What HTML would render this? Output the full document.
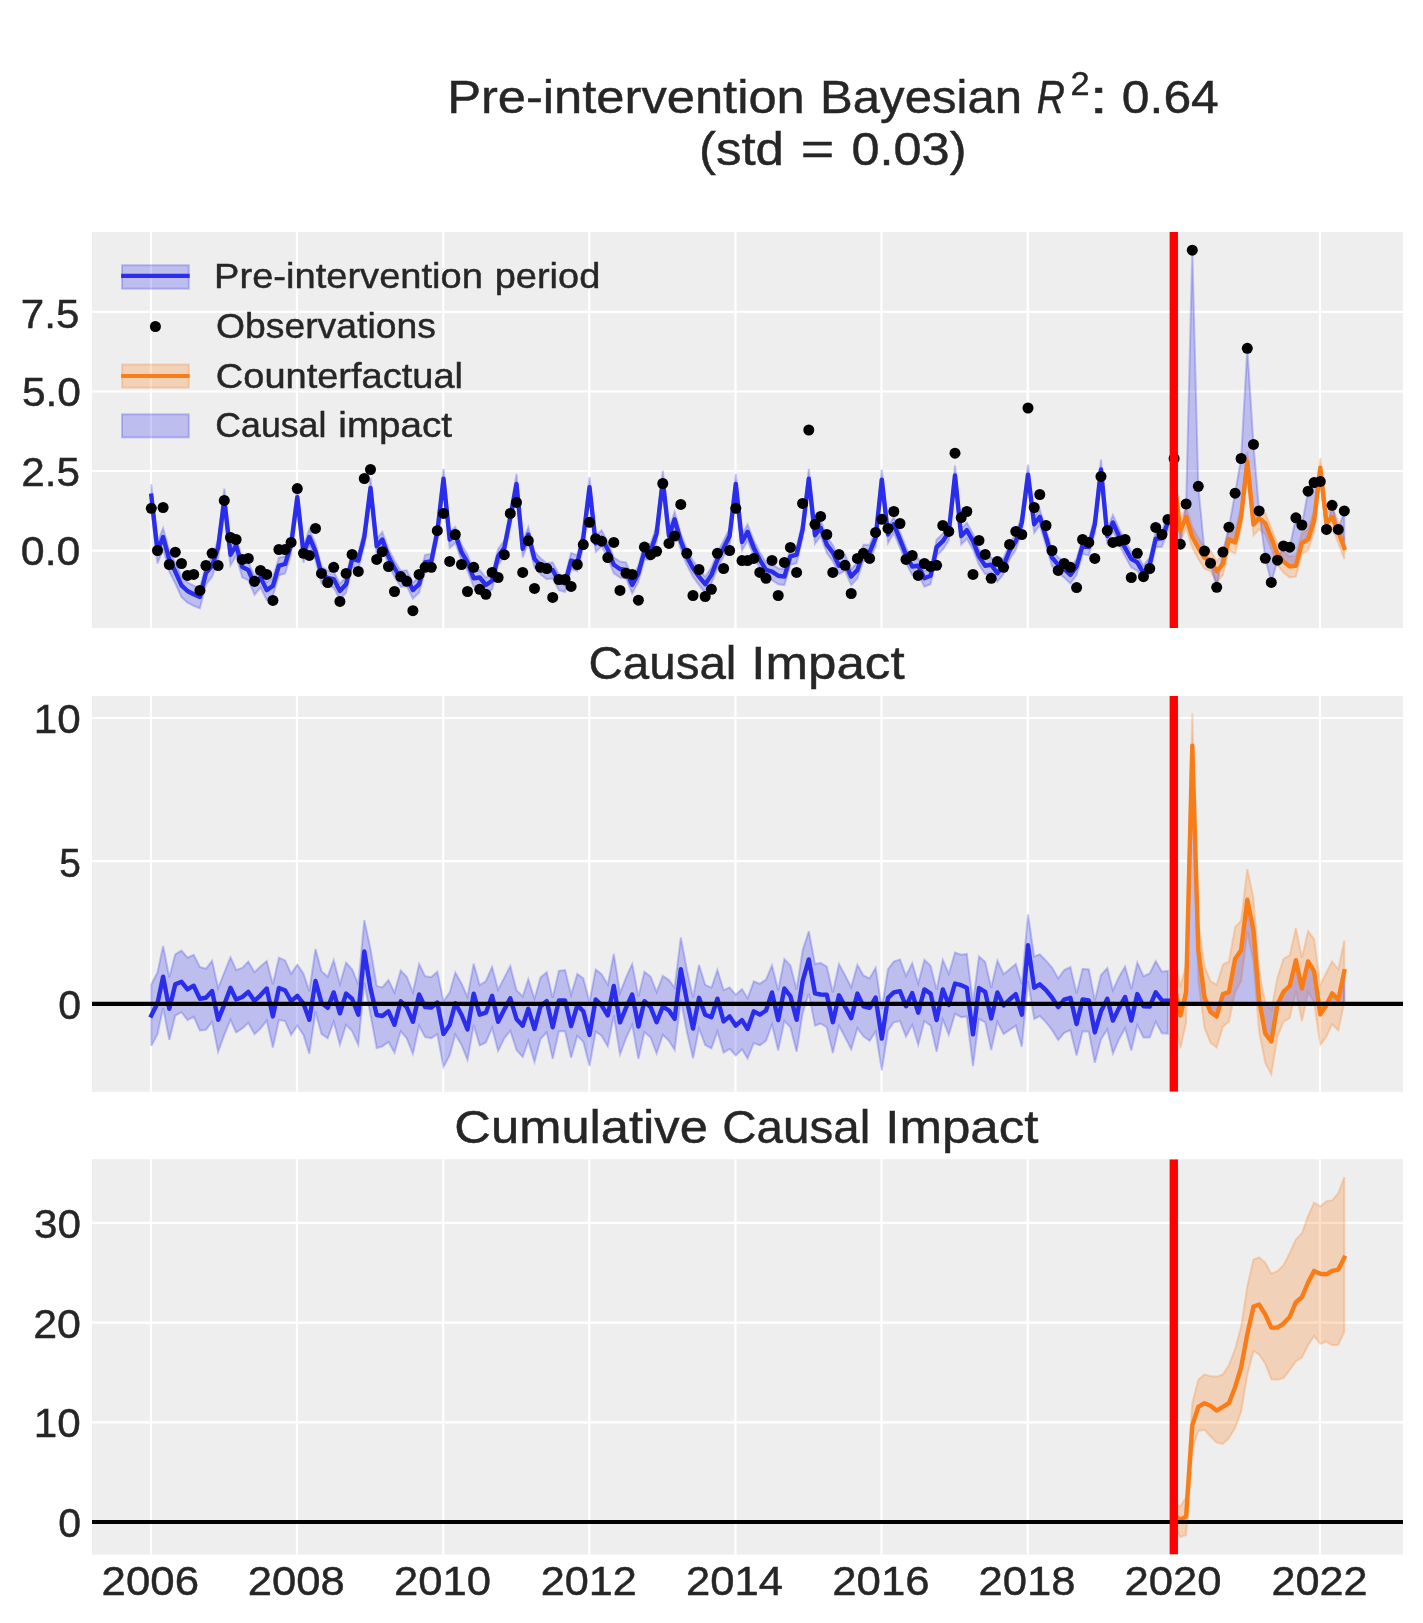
<!DOCTYPE html>
<html><head><meta charset="utf-8"><title>Causal impact chart</title><style>html,body{margin:0;padding:0;background:#fff}body{width:1423px;height:1623px;overflow:hidden}svg{position:absolute;left:0;top:0}</style></head><body>
<svg width="1423" height="1623" viewBox="0 0 1423 1623" style="display:block;font-family:'Liberation Sans',sans-serif">
<rect width="1423" height="1623" fill="#ffffff"/>
<defs><clipPath id="c0"><rect x="92.0" y="232.0" width="1311.0" height="396.0"/></clipPath><clipPath id="c1"><rect x="92.0" y="696.0" width="1311.0" height="395.79999999999995"/></clipPath><clipPath id="c2"><rect x="92.0" y="1159.2" width="1311.0" height="395.39999999999986"/></clipPath></defs>
<rect x="92.0" y="232.0" width="1311.0" height="396.0" fill="#eeeeee"/><g stroke="#ffffff" stroke-width="2.2"><line x1="150.96" x2="150.96" y1="232.0" y2="628.0"/><line x1="296.99" x2="296.99" y1="232.0" y2="628.0"/><line x1="443.22" x2="443.22" y1="232.0" y2="628.0"/><line x1="589.25" x2="589.25" y1="232.0" y2="628.0"/><line x1="735.48" x2="735.48" y1="232.0" y2="628.0"/><line x1="881.51" x2="881.51" y1="232.0" y2="628.0"/><line x1="1027.74" x2="1027.74" y1="232.0" y2="628.0"/><line x1="1173.76" x2="1173.76" y1="232.0" y2="628.0"/><line x1="1319.99" x2="1319.99" y1="232.0" y2="628.0"/><line x1="92.0" x2="1403.0" y1="311.8" y2="311.8"/><line x1="92.0" x2="1403.0" y1="391.5" y2="391.5"/><line x1="92.0" x2="1403.0" y1="471.0" y2="471.0"/><line x1="92.0" x2="1403.0" y1="550.7" y2="550.7"/></g>
<g clip-path="url(#c0)">
<path d="M151.3 484.2 L157.5 542.2 L163.1 528.1 L169.3 550.8 L175.3 562.8 L181.5 576.6 L187.5 582.3 L193.7 585.7 L199.9 588.3 L205.9 564.7 L212.1 557.2 L218.1 539.5 L224.3 488.6 L230.5 546.3 L236.1 537.1 L242.3 558.8 L248.3 561.7 L254.5 576.5 L260.5 569.4 L266.7 582.1 L272.9 577.9 L278.9 557.7 L285.1 556.1 L291.1 536.7 L297.3 487.0 L303.5 545.7 L309.3 529.3 L315.5 543.7 L321.5 566.8 L327.7 570.4 L333.7 571.6 L339.9 583.5 L346.1 576.7 L352.1 551.4 L358.3 553.1 L364.3 529.5 L370.5 478.0 L376.7 538.8 L382.3 532.0 L388.5 548.9 L394.5 560.7 L400.7 570.8 L406.7 570.2 L412.9 582.6 L419.1 576.7 L425.1 554.8 L431.3 553.9 L437.3 524.4 L443.5 468.8 L449.7 532.0 L455.3 527.0 L461.5 544.7 L467.5 554.8 L473.7 570.8 L479.7 570.0 L485.9 577.5 L492.1 573.3 L498.1 548.9 L504.3 540.4 L510.3 510.1 L516.5 473.9 L522.7 541.3 L528.3 527.0 L534.5 551.4 L540.5 558.2 L546.7 563.2 L552.7 562.4 L558.9 574.2 L565.1 575.9 L571.1 553.1 L577.3 555.2 L583.3 530.3 L589.5 477.2 L595.7 535.9 L601.6 530.3 L607.8 542.1 L613.8 557.3 L620.0 561.5 L626.0 562.4 L632.2 577.5 L638.4 565.7 L644.4 543.8 L650.6 543.5 L656.6 526.1 L662.8 470.5 L669.0 528.6 L674.6 511.8 L680.8 533.7 L686.8 548.9 L693.0 560.7 L699.0 569.1 L705.2 576.7 L711.4 567.4 L717.4 552.3 L723.6 540.4 L729.6 528.6 L735.8 473.9 L742.0 534.5 L747.6 524.4 L753.8 540.4 L759.8 552.3 L766.0 562.4 L772.0 564.1 L778.2 568.3 L784.4 569.1 L790.4 548.9 L796.6 547.2 L802.6 521.9 L808.8 468.8 L815.0 527.8 L820.6 520.2 L826.8 537.1 L832.8 545.1 L839.0 558.2 L845.0 554.7 L851.2 569.1 L857.4 562.4 L863.4 544.7 L869.6 544.7 L875.6 530.3 L881.8 469.6 L888.0 527.0 L893.8 516.8 L900.0 532.0 L906.0 547.2 L912.2 559.0 L918.2 558.2 L924.4 570.8 L930.6 568.3 L936.6 539.6 L942.8 533.7 L948.8 524.4 L955.0 465.4 L961.2 528.6 L966.8 522.7 L973.0 533.7 L979.0 548.9 L985.2 558.2 L991.2 557.3 L997.4 565.7 L1003.6 558.0 L1009.6 543.2 L1015.8 533.7 L1021.8 515.1 L1028.0 464.6 L1034.2 516.8 L1039.8 509.2 L1046.0 529.5 L1052.0 550.0 L1058.2 557.3 L1064.2 561.5 L1070.4 567.4 L1076.6 559.0 L1082.6 537.9 L1088.8 539.6 L1094.8 516.8 L1101.0 459.5 L1107.3 528.5 L1112.9 515.1 L1119.1 528.6 L1125.1 540.4 L1131.3 551.4 L1137.3 554.8 L1143.5 565.7 L1149.7 557.3 L1155.7 531.2 L1161.9 530.8 L1167.9 515.1 L1167.9 531.1 L1161.9 546.8 L1155.7 547.2 L1149.7 573.3 L1143.5 581.7 L1137.3 570.8 L1131.3 567.4 L1125.1 556.4 L1119.1 544.6 L1112.9 531.1 L1107.3 544.5 L1101.0 479.5 L1094.8 532.8 L1088.8 555.6 L1082.6 553.9 L1076.6 575.0 L1070.4 583.4 L1064.2 577.5 L1058.2 573.3 L1052.0 566.0 L1046.0 545.5 L1039.8 525.2 L1034.2 532.8 L1028.0 484.6 L1021.8 531.1 L1015.8 549.7 L1009.6 559.2 L1003.6 574.0 L997.4 581.7 L991.2 573.3 L985.2 574.2 L979.0 564.9 L973.0 549.7 L966.8 538.7 L961.2 544.6 L955.0 485.4 L948.8 540.4 L942.8 549.7 L936.6 555.6 L930.6 584.3 L924.4 586.8 L918.2 574.2 L912.2 575.0 L906.0 563.2 L900.0 548.0 L893.8 532.8 L888.0 543.0 L881.8 489.6 L875.6 546.3 L869.6 560.7 L863.4 560.7 L857.4 578.4 L851.2 585.1 L845.0 570.7 L839.0 574.2 L832.8 561.1 L826.8 553.1 L820.6 536.2 L815.0 543.8 L808.8 488.8 L802.6 537.9 L796.6 563.2 L790.4 564.9 L784.4 585.1 L778.2 584.3 L772.0 580.1 L766.0 578.4 L759.8 568.3 L753.8 556.4 L747.6 540.4 L742.0 550.5 L735.8 493.9 L729.6 544.6 L723.6 556.4 L717.4 568.3 L711.4 583.4 L705.2 592.7 L699.0 585.1 L693.0 576.7 L686.8 564.9 L680.8 549.7 L674.6 527.8 L669.0 544.6 L662.8 490.5 L656.6 542.1 L650.6 559.5 L644.4 559.8 L638.4 581.7 L632.2 593.5 L626.0 578.4 L620.0 577.5 L613.8 573.3 L607.8 558.1 L601.6 546.3 L595.7 551.9 L589.5 497.2 L583.3 546.3 L577.3 571.2 L571.1 569.1 L565.1 591.9 L558.9 590.2 L552.7 578.4 L546.7 579.2 L540.5 574.2 L534.5 567.4 L528.3 543.0 L522.7 557.3 L516.5 493.9 L510.3 526.1 L504.3 556.4 L498.1 564.9 L492.1 589.3 L485.9 593.5 L479.7 586.0 L473.7 586.8 L467.5 570.8 L461.5 560.7 L455.3 543.0 L449.7 548.0 L443.5 488.8 L437.3 540.4 L431.3 569.9 L425.1 570.8 L419.1 592.7 L412.9 598.6 L406.7 586.2 L400.7 586.8 L394.5 576.7 L388.5 564.9 L382.3 548.0 L376.7 554.8 L370.5 498.0 L364.3 545.5 L358.3 569.1 L352.1 567.4 L346.1 592.7 L339.9 599.5 L333.7 587.6 L327.7 586.5 L321.5 583.2 L315.5 560.2 L309.3 546.0 L303.5 562.6 L297.3 508.1 L291.1 554.0 L285.1 573.5 L278.9 575.4 L272.9 595.7 L266.7 600.1 L260.5 587.6 L254.5 594.8 L248.3 580.2 L242.3 577.5 L236.1 556.0 L230.5 565.5 L224.3 511.9 L218.1 559.0 L212.1 576.8 L205.9 584.5 L199.9 608.3 L193.7 605.9 L187.5 602.7 L181.5 597.2 L175.3 583.5 L169.3 571.7 L163.1 549.2 L157.5 563.5 L151.3 509.7Z" fill="#2a2eec" fill-opacity="0.25" stroke="#2a2eec" stroke-opacity="0.25" stroke-width="2.0" stroke-linejoin="miter" />
<path d="M1174.1 468.9 L1180.3 520.7 L1186.1 507.1 L1192.3 526.8 L1198.3 537.9 L1204.5 547.8 L1210.5 550.2 L1216.7 561.3 L1222.9 553.9 L1228.9 529.3 L1235.1 532.5 L1241.1 507.1 L1247.3 451.7 L1253.5 514.5 L1259.1 508.3 L1265.3 513.3 L1271.3 528.1 L1277.5 544.1 L1283.5 551.5 L1289.7 556.4 L1295.9 555.7 L1301.9 533.0 L1308.1 529.3 L1314.1 510.8 L1320.3 457.8 L1326.5 513.3 L1332.1 507.1 L1338.3 521.9 L1344.3 537.9 L1344.3 558.9 L1338.3 542.9 L1332.1 528.1 L1326.5 534.3 L1320.3 478.8 L1314.1 531.8 L1308.1 550.3 L1301.9 554.0 L1295.9 576.7 L1289.7 577.4 L1283.5 572.5 L1277.5 565.1 L1271.3 549.1 L1265.3 534.3 L1259.1 529.3 L1253.5 535.5 L1247.3 472.7 L1241.1 528.1 L1235.1 553.5 L1228.9 550.3 L1222.9 574.9 L1216.7 582.3 L1210.5 571.2 L1204.5 568.8 L1198.3 558.9 L1192.3 547.8 L1186.1 528.1 L1180.3 541.7 L1174.1 489.9Z" fill="#fa7c17" fill-opacity="0.25" stroke="#fa7c17" stroke-opacity="0.25" stroke-width="2.0" stroke-linejoin="miter" />
<path d="M1174.1 458.5 L1180.3 544.2 L1186.1 504.0 L1192.3 250.2 L1198.3 486.3 L1204.5 551.1 L1210.5 563.2 L1216.7 587.3 L1222.9 552.1 L1228.9 527.2 L1235.1 493.2 L1241.1 458.5 L1247.3 348.3 L1253.5 444.4 L1259.1 510.9 L1265.3 558.3 L1271.3 582.4 L1277.5 560.2 L1283.5 545.9 L1289.7 547.2 L1295.9 517.8 L1301.9 525.0 L1308.1 491.2 L1314.1 482.6 L1320.3 481.4 L1326.5 529.4 L1332.1 505.3 L1338.3 529.4 L1344.3 510.9 L1344.3 547.9 L1338.3 531.9 L1332.1 517.1 L1326.5 523.3 L1320.3 467.8 L1314.1 520.8 L1308.1 539.3 L1301.9 543.0 L1295.9 565.7 L1289.7 566.4 L1283.5 561.5 L1277.5 554.1 L1271.3 538.1 L1265.3 523.3 L1259.1 518.3 L1253.5 524.5 L1247.3 461.7 L1241.1 517.1 L1235.1 542.5 L1228.9 539.3 L1222.9 563.9 L1216.7 571.3 L1210.5 560.2 L1204.5 557.8 L1198.3 547.9 L1192.3 536.8 L1186.1 517.1 L1180.3 530.7 L1174.1 478.9Z" fill="#2a2eec" fill-opacity="0.25" stroke="#2a2eec" stroke-opacity="0.25" stroke-width="2.0" stroke-linejoin="miter" />
<polyline points="151.3,495.7 157.5,551.1 163.1,537.0 169.3,559.6 175.3,571.6 181.5,585.4 187.5,591.0 193.7,594.3 199.9,596.9 205.9,573.2 212.1,565.7 218.1,547.9 224.3,499.5 230.5,554.7 236.1,545.4 242.3,567.0 248.3,569.9 254.5,584.6 260.5,577.5 266.7,590.1 272.9,585.9 278.9,565.7 285.1,564.0 291.1,544.6 297.3,497.3 303.5,553.4 309.3,537.0 315.5,551.3 321.5,574.4 327.7,577.9 333.7,579.1 339.9,591.0 346.1,584.2 352.1,558.9 358.3,560.6 364.3,537.0 370.5,488.0 376.7,546.3 382.3,539.5 388.5,556.4 394.5,568.2 400.7,578.3 406.7,577.7 412.9,590.1 419.1,584.2 425.1,562.3 431.3,561.4 437.3,531.9 443.5,478.8 449.7,539.5 455.3,534.5 461.5,552.2 467.5,562.3 473.7,578.3 479.7,577.5 485.9,585.0 492.1,580.8 498.1,556.4 504.3,547.9 510.3,517.6 516.5,483.9 522.7,548.8 528.3,534.5 534.5,558.9 540.5,565.7 546.7,570.7 552.7,569.9 558.9,581.7 565.1,583.4 571.1,560.6 577.3,562.7 583.3,537.8 589.5,487.2 595.7,543.4 601.6,537.8 607.8,549.6 613.8,564.8 620.0,569.0 626.0,569.9 632.2,585.0 638.4,573.2 644.4,551.3 650.6,551.0 656.6,533.6 662.8,480.5 669.0,536.1 674.6,519.3 680.8,541.2 686.8,556.4 693.0,568.2 699.0,576.6 705.2,584.2 711.4,574.9 717.4,559.8 723.6,547.9 729.6,536.1 735.8,483.9 742.0,542.0 747.6,531.9 753.8,547.9 759.8,559.8 766.0,569.9 772.0,571.6 778.2,575.8 784.4,576.6 790.4,556.4 796.6,554.7 802.6,529.4 808.8,478.8 815.0,535.3 820.6,527.7 826.8,544.6 832.8,552.6 839.0,565.7 845.0,562.2 851.2,576.6 857.4,569.9 863.4,552.2 869.6,552.2 875.6,537.8 881.8,479.6 888.0,534.5 893.8,524.3 900.0,539.5 906.0,554.7 912.2,566.5 918.2,565.7 924.4,578.3 930.6,575.8 936.6,547.1 942.8,541.2 948.8,531.9 955.0,475.4 961.2,536.1 966.8,530.2 973.0,541.2 979.0,556.4 985.2,565.7 991.2,564.8 997.4,573.2 1003.6,565.5 1009.6,550.7 1015.8,541.2 1021.8,522.6 1028.0,474.6 1034.2,524.3 1039.8,516.7 1046.0,537.0 1052.0,557.5 1058.2,564.8 1064.2,569.0 1070.4,574.9 1076.6,566.5 1082.6,545.4 1088.8,547.1 1094.8,524.3 1101.0,469.5 1107.3,536.0 1112.9,522.6 1119.1,536.1 1125.1,547.9 1131.3,558.9 1137.3,562.3 1143.5,573.2 1149.7,564.8 1155.7,538.7 1161.9,538.3 1167.9,522.6" fill="none" stroke="#2a2eec" stroke-width="4.4" stroke-linejoin="round" stroke-linecap="square"/>
<polyline points="1174.1,478.9 1180.3,530.7 1186.1,517.1 1192.3,536.8 1198.3,547.9 1204.5,557.8 1210.5,560.2 1216.7,571.3 1222.9,563.9 1228.9,539.3 1235.1,542.5 1241.1,517.1 1247.3,461.7 1253.5,524.5 1259.1,518.3 1265.3,523.3 1271.3,538.1 1277.5,554.1 1283.5,561.5 1289.7,566.4 1295.9,565.7 1301.9,543.0 1308.1,539.3 1314.1,520.8 1320.3,467.8 1326.5,523.3 1332.1,517.1 1338.3,531.9 1344.3,547.9" fill="none" stroke="#fa7c17" stroke-width="4.4" stroke-linejoin="round" stroke-linecap="square"/>
<g fill="#000000"><circle cx="151.3" cy="508.3" r="5.5"/><circle cx="157.5" cy="550.5" r="5.5"/><circle cx="163.1" cy="507.5" r="5.5"/><circle cx="169.3" cy="564.5" r="5.5"/><circle cx="175.3" cy="552.2" r="5.5"/><circle cx="181.5" cy="563.5" r="5.5"/><circle cx="187.5" cy="575.4" r="5.5"/><circle cx="193.7" cy="574.4" r="5.5"/><circle cx="199.9" cy="590.4" r="5.5"/><circle cx="205.9" cy="565.5" r="5.5"/><circle cx="212.1" cy="553.3" r="5.5"/><circle cx="218.1" cy="565.5" r="5.5"/><circle cx="224.3" cy="500.4" r="5.5"/><circle cx="230.5" cy="537.5" r="5.5"/><circle cx="236.1" cy="539.5" r="5.5"/><circle cx="242.3" cy="559.4" r="5.5"/><circle cx="248.3" cy="558.4" r="5.5"/><circle cx="254.5" cy="581.3" r="5.5"/><circle cx="260.5" cy="570.4" r="5.5"/><circle cx="266.7" cy="574.4" r="5.5"/><circle cx="272.9" cy="600.4" r="5.5"/><circle cx="278.9" cy="549.5" r="5.5"/><circle cx="285.1" cy="549.5" r="5.5"/><circle cx="291.1" cy="542.4" r="5.5"/><circle cx="297.3" cy="488.6" r="5.5"/><circle cx="303.5" cy="553.3" r="5.5"/><circle cx="309.3" cy="555.4" r="5.5"/><circle cx="315.5" cy="528.4" r="5.5"/><circle cx="321.5" cy="573.4" r="5.5"/><circle cx="327.7" cy="582.5" r="5.5"/><circle cx="333.7" cy="567.3" r="5.5"/><circle cx="339.9" cy="601.4" r="5.5"/><circle cx="346.1" cy="573.4" r="5.5"/><circle cx="352.1" cy="554.4" r="5.5"/><circle cx="358.3" cy="571.4" r="5.5"/><circle cx="364.3" cy="478.5" r="5.5"/><circle cx="370.5" cy="469.5" r="5.5"/><circle cx="376.7" cy="559.4" r="5.5"/><circle cx="382.3" cy="551.7" r="5.5"/><circle cx="388.5" cy="566.5" r="5.5"/><circle cx="394.5" cy="591.5" r="5.5"/><circle cx="400.7" cy="576.6" r="5.5"/><circle cx="406.7" cy="581.3" r="5.5"/><circle cx="412.9" cy="610.7" r="5.5"/><circle cx="419.1" cy="574.4" r="5.5"/><circle cx="425.1" cy="567.3" r="5.5"/><circle cx="431.3" cy="567.3" r="5.5"/><circle cx="437.3" cy="530.7" r="5.5"/><circle cx="443.5" cy="513.4" r="5.5"/><circle cx="449.7" cy="561.4" r="5.5"/><circle cx="455.3" cy="534.5" r="5.5"/><circle cx="461.5" cy="564.5" r="5.5"/><circle cx="467.5" cy="591.5" r="5.5"/><circle cx="473.7" cy="567.3" r="5.5"/><circle cx="479.7" cy="589.3" r="5.5"/><circle cx="485.9" cy="594.3" r="5.5"/><circle cx="492.1" cy="572.4" r="5.5"/><circle cx="498.1" cy="577.5" r="5.5"/><circle cx="504.3" cy="554.7" r="5.5"/><circle cx="510.3" cy="513.4" r="5.5"/><circle cx="516.5" cy="502.4" r="5.5"/><circle cx="522.7" cy="572.4" r="5.5"/><circle cx="528.3" cy="540.7" r="5.5"/><circle cx="534.5" cy="588.4" r="5.5"/><circle cx="540.5" cy="567.3" r="5.5"/><circle cx="546.7" cy="568.5" r="5.5"/><circle cx="552.7" cy="597.4" r="5.5"/><circle cx="558.9" cy="579.5" r="5.5"/><circle cx="565.1" cy="579.5" r="5.5"/><circle cx="571.1" cy="586.4" r="5.5"/><circle cx="577.3" cy="564.5" r="5.5"/><circle cx="583.3" cy="544.6" r="5.5"/><circle cx="589.5" cy="522.3" r="5.5"/><circle cx="595.7" cy="538.7" r="5.5"/><circle cx="601.6" cy="541.2" r="5.5"/><circle cx="607.8" cy="557.6" r="5.5"/><circle cx="613.8" cy="542.4" r="5.5"/><circle cx="620.0" cy="590.4" r="5.5"/><circle cx="626.0" cy="573.2" r="5.5"/><circle cx="632.2" cy="574.4" r="5.5"/><circle cx="638.4" cy="600.2" r="5.5"/><circle cx="644.4" cy="547.1" r="5.5"/><circle cx="650.6" cy="554.7" r="5.5"/><circle cx="656.6" cy="551.3" r="5.5"/><circle cx="662.8" cy="483.5" r="5.5"/><circle cx="669.0" cy="543.4" r="5.5"/><circle cx="674.6" cy="536.1" r="5.5"/><circle cx="680.8" cy="504.4" r="5.5"/><circle cx="686.8" cy="553.3" r="5.5"/><circle cx="693.0" cy="595.5" r="5.5"/><circle cx="699.0" cy="569.5" r="5.5"/><circle cx="705.2" cy="596.5" r="5.5"/><circle cx="711.4" cy="589.3" r="5.5"/><circle cx="717.4" cy="553.3" r="5.5"/><circle cx="723.6" cy="568.5" r="5.5"/><circle cx="729.6" cy="550.5" r="5.5"/><circle cx="735.8" cy="508.3" r="5.5"/><circle cx="742.0" cy="560.6" r="5.5"/><circle cx="747.6" cy="560.6" r="5.5"/><circle cx="753.8" cy="558.4" r="5.5"/><circle cx="759.8" cy="572.4" r="5.5"/><circle cx="766.0" cy="578.3" r="5.5"/><circle cx="772.0" cy="560.4" r="5.5"/><circle cx="778.2" cy="595.5" r="5.5"/><circle cx="784.4" cy="562.4" r="5.5"/><circle cx="790.4" cy="547.4" r="5.5"/><circle cx="796.6" cy="572.4" r="5.5"/><circle cx="802.6" cy="503.4" r="5.5"/><circle cx="808.8" cy="430.0" r="5.5"/><circle cx="815.0" cy="524.3" r="5.5"/><circle cx="820.6" cy="516.4" r="5.5"/><circle cx="826.8" cy="534.5" r="5.5"/><circle cx="832.8" cy="572.4" r="5.5"/><circle cx="839.0" cy="554.4" r="5.5"/><circle cx="845.0" cy="565.3" r="5.5"/><circle cx="851.2" cy="593.5" r="5.5"/><circle cx="857.4" cy="558.4" r="5.5"/><circle cx="863.4" cy="553.3" r="5.5"/><circle cx="869.6" cy="558.4" r="5.5"/><circle cx="875.6" cy="532.4" r="5.5"/><circle cx="881.8" cy="519.3" r="5.5"/><circle cx="888.0" cy="528.4" r="5.5"/><circle cx="893.8" cy="511.5" r="5.5"/><circle cx="900.0" cy="523.5" r="5.5"/><circle cx="906.0" cy="559.4" r="5.5"/><circle cx="912.2" cy="555.5" r="5.5"/><circle cx="918.2" cy="575.4" r="5.5"/><circle cx="924.4" cy="563.5" r="5.5"/><circle cx="930.6" cy="566.5" r="5.5"/><circle cx="936.6" cy="565.3" r="5.5"/><circle cx="942.8" cy="525.5" r="5.5"/><circle cx="948.8" cy="531.4" r="5.5"/><circle cx="955.0" cy="453.2" r="5.5"/><circle cx="961.2" cy="517.6" r="5.5"/><circle cx="966.8" cy="511.5" r="5.5"/><circle cx="973.0" cy="574.4" r="5.5"/><circle cx="979.0" cy="540.4" r="5.5"/><circle cx="985.2" cy="554.4" r="5.5"/><circle cx="991.2" cy="578.3" r="5.5"/><circle cx="997.4" cy="561.4" r="5.5"/><circle cx="1003.6" cy="567.3" r="5.5"/><circle cx="1009.6" cy="544.4" r="5.5"/><circle cx="1015.8" cy="531.4" r="5.5"/><circle cx="1021.8" cy="534.5" r="5.5"/><circle cx="1028.0" cy="408.0" r="5.5"/><circle cx="1034.2" cy="507.5" r="5.5"/><circle cx="1039.8" cy="494.5" r="5.5"/><circle cx="1046.0" cy="525.5" r="5.5"/><circle cx="1052.0" cy="550.5" r="5.5"/><circle cx="1058.2" cy="570.4" r="5.5"/><circle cx="1064.2" cy="563.5" r="5.5"/><circle cx="1070.4" cy="567.3" r="5.5"/><circle cx="1076.6" cy="587.6" r="5.5"/><circle cx="1082.6" cy="539.5" r="5.5"/><circle cx="1088.8" cy="542.4" r="5.5"/><circle cx="1094.8" cy="558.4" r="5.5"/><circle cx="1101.0" cy="476.4" r="5.5"/><circle cx="1107.3" cy="530.6" r="5.5"/><circle cx="1112.9" cy="542.4" r="5.5"/><circle cx="1119.1" cy="541.2" r="5.5"/><circle cx="1125.1" cy="539.5" r="5.5"/><circle cx="1131.3" cy="577.5" r="5.5"/><circle cx="1137.3" cy="553.3" r="5.5"/><circle cx="1143.5" cy="576.6" r="5.5"/><circle cx="1149.7" cy="568.5" r="5.5"/><circle cx="1155.7" cy="527.4" r="5.5"/><circle cx="1161.9" cy="534.5" r="5.5"/><circle cx="1167.9" cy="519.4" r="5.5"/><circle cx="1174.1" cy="458.5" r="5.5"/><circle cx="1180.3" cy="544.2" r="5.5"/><circle cx="1186.1" cy="504.0" r="5.5"/><circle cx="1192.3" cy="250.2" r="5.5"/><circle cx="1198.3" cy="486.3" r="5.5"/><circle cx="1204.5" cy="551.1" r="5.5"/><circle cx="1210.5" cy="563.2" r="5.5"/><circle cx="1216.7" cy="587.3" r="5.5"/><circle cx="1222.9" cy="552.1" r="5.5"/><circle cx="1228.9" cy="527.2" r="5.5"/><circle cx="1235.1" cy="493.2" r="5.5"/><circle cx="1241.1" cy="458.5" r="5.5"/><circle cx="1247.3" cy="348.3" r="5.5"/><circle cx="1253.5" cy="444.4" r="5.5"/><circle cx="1259.1" cy="510.9" r="5.5"/><circle cx="1265.3" cy="558.3" r="5.5"/><circle cx="1271.3" cy="582.4" r="5.5"/><circle cx="1277.5" cy="560.2" r="5.5"/><circle cx="1283.5" cy="545.9" r="5.5"/><circle cx="1289.7" cy="547.2" r="5.5"/><circle cx="1295.9" cy="517.8" r="5.5"/><circle cx="1301.9" cy="525.0" r="5.5"/><circle cx="1308.1" cy="491.2" r="5.5"/><circle cx="1314.1" cy="482.6" r="5.5"/><circle cx="1320.3" cy="481.4" r="5.5"/><circle cx="1326.5" cy="529.4" r="5.5"/><circle cx="1332.1" cy="505.3" r="5.5"/><circle cx="1338.3" cy="529.4" r="5.5"/><circle cx="1344.3" cy="510.9" r="5.5"/></g>
<line x1="1173.8" x2="1173.8" y1="232.0" y2="628.0" stroke="#ff0000" stroke-width="8.3"/>
</g>
<rect x="92.0" y="696.0" width="1311.0" height="395.79999999999995" fill="#eeeeee"/><g stroke="#ffffff" stroke-width="2.2"><line x1="150.96" x2="150.96" y1="696.0" y2="1091.8"/><line x1="296.99" x2="296.99" y1="696.0" y2="1091.8"/><line x1="443.22" x2="443.22" y1="696.0" y2="1091.8"/><line x1="589.25" x2="589.25" y1="696.0" y2="1091.8"/><line x1="735.48" x2="735.48" y1="696.0" y2="1091.8"/><line x1="881.51" x2="881.51" y1="696.0" y2="1091.8"/><line x1="1027.74" x2="1027.74" y1="696.0" y2="1091.8"/><line x1="1173.76" x2="1173.76" y1="696.0" y2="1091.8"/><line x1="1319.99" x2="1319.99" y1="696.0" y2="1091.8"/><line x1="92.0" x2="1403.0" y1="718.0" y2="718.0"/><line x1="92.0" x2="1403.0" y1="861.1" y2="861.1"/><line x1="92.0" x2="1403.0" y1="1003.8" y2="1003.8"/></g>
<g clip-path="url(#c1)">
<path d="M151.3 984.3 L157.5 972.5 L163.1 945.9 L169.3 977.2 L175.3 954.3 L181.5 950.6 L187.5 957.7 L193.7 954.8 L199.9 967.0 L205.9 968.8 L212.1 960.7 L218.1 988.0 L224.3 972.5 L230.5 957.3 L236.1 970.0 L242.3 968.0 L248.3 961.6 L254.5 972.2 L260.5 966.6 L266.7 961.1 L272.9 984.3 L278.9 957.7 L285.1 960.4 L291.1 973.7 L297.3 964.6 L303.5 973.7 L309.3 991.1 L315.5 948.9 L321.5 971.2 L327.7 976.7 L333.7 960.2 L339.9 984.0 L346.1 962.7 L352.1 969.2 L358.3 984.3 L364.3 920.2 L370.5 948.9 L376.7 986.0 L382.3 987.4 L388.5 980.1 L394.5 992.4 L400.7 970.5 L406.7 976.7 L412.9 992.4 L419.1 964.1 L425.1 976.2 L431.3 977.2 L437.3 971.7 L443.5 1001.2 L449.7 992.4 L455.3 972.5 L461.5 983.5 L467.5 997.0 L473.7 963.8 L479.7 985.2 L485.9 981.0 L492.1 967.1 L498.1 989.7 L504.3 977.6 L510.3 966.1 L516.5 990.2 L522.7 996.5 L528.3 979.3 L534.5 998.7 L540.5 977.6 L546.7 972.2 L552.7 997.8 L558.9 970.8 L565.1 970.0 L571.1 994.8 L577.3 973.9 L583.3 978.4 L589.5 1002.0 L595.7 969.5 L601.6 974.2 L607.8 984.8 L613.8 954.0 L620.0 993.1 L626.0 977.6 L632.2 964.1 L638.4 996.5 L644.4 971.7 L650.6 976.7 L656.6 991.9 L662.8 975.9 L669.0 980.1 L674.6 987.7 L680.8 937.4 L686.8 969.2 L693.0 997.5 L699.0 964.9 L705.2 984.8 L711.4 987.7 L717.4 970.0 L723.6 990.2 L729.6 987.4 L735.8 994.8 L742.0 989.1 L747.6 998.2 L753.8 981.3 L759.8 983.8 L766.0 979.6 L772.0 965.4 L778.2 990.2 L784.4 959.0 L790.4 965.4 L796.6 989.4 L802.6 950.6 L808.8 931.2 L815.0 964.1 L820.6 962.9 L826.8 966.6 L832.8 992.4 L839.0 964.1 L845.0 975.1 L851.2 987.2 L857.4 964.9 L863.4 975.4 L869.6 978.4 L875.6 967.8 L881.8 1008.8 L888.0 969.2 L893.8 961.6 L900.0 959.4 L906.0 975.9 L912.2 963.2 L918.2 983.5 L924.4 959.9 L930.6 965.8 L936.6 989.7 L942.8 959.9 L948.8 973.9 L955.0 952.6 L961.2 954.8 L966.8 954.0 L973.0 1002.9 L979.0 956.5 L985.2 962.1 L991.2 987.7 L997.4 960.7 L1003.6 974.2 L1009.6 969.2 L1015.8 964.1 L1021.8 984.3 L1028.0 914.3 L1034.2 956.5 L1039.8 954.3 L1046.0 960.7 L1052.0 967.5 L1058.2 978.4 L1064.2 970.0 L1070.4 967.0 L1076.6 993.6 L1082.6 968.8 L1088.8 969.5 L1094.8 1000.4 L1101.0 975.1 L1107.3 968.0 L1112.9 990.2 L1119.1 976.7 L1125.1 966.6 L1131.3 989.1 L1137.3 962.7 L1143.5 976.2 L1149.7 973.4 L1155.7 961.1 L1161.9 971.7 L1167.9 970.8 L1167.9 1033.6 L1161.9 1033.2 L1155.7 1021.8 L1149.7 1037.5 L1143.5 1037.5 L1137.3 1025.1 L1131.3 1050.4 L1125.1 1028.2 L1119.1 1039.1 L1112.9 1053.5 L1107.3 1029.5 L1101.0 1039.1 L1094.8 1062.8 L1088.8 1031.6 L1082.6 1031.2 L1076.6 1055.5 L1070.4 1030.2 L1064.2 1032.9 L1058.2 1040.0 L1052.0 1029.9 L1046.0 1022.3 L1039.8 1016.0 L1034.2 1018.9 L1028.0 981.0 L1021.8 1046.7 L1015.8 1025.7 L1009.6 1029.9 L1003.6 1034.1 L997.4 1021.8 L991.2 1050.1 L985.2 1022.3 L979.0 1018.9 L973.0 1066.1 L966.8 1016.4 L961.2 1017.2 L955.0 1013.8 L948.8 1034.9 L942.8 1019.4 L936.6 1051.8 L930.6 1025.7 L924.4 1021.1 L918.2 1044.7 L912.2 1024.8 L906.0 1036.6 L900.0 1021.1 L893.8 1022.3 L888.0 1030.7 L881.8 1070.3 L875.6 1031.6 L869.6 1040.8 L863.4 1036.3 L857.4 1028.2 L851.2 1049.3 L845.0 1037.0 L839.0 1025.7 L832.8 1053.1 L826.8 1027.3 L820.6 1023.5 L815.0 1025.7 L808.8 993.6 L802.6 1013.3 L796.6 1051.8 L790.4 1027.3 L784.4 1021.1 L778.2 1050.4 L772.0 1024.5 L766.0 1040.8 L759.8 1045.4 L753.8 1043.0 L747.6 1058.5 L742.0 1049.3 L735.8 1055.5 L729.6 1048.8 L723.6 1052.6 L717.4 1031.6 L711.4 1048.4 L705.2 1045.0 L699.0 1028.5 L693.0 1058.2 L686.8 1031.6 L680.8 999.5 L674.6 1050.1 L669.0 1040.8 L662.8 1034.9 L656.6 1053.5 L650.6 1037.5 L644.4 1032.1 L638.4 1058.9 L632.2 1024.8 L626.0 1038.3 L620.0 1054.3 L613.8 1015.5 L607.8 1046.4 L601.6 1035.8 L595.7 1031.6 L589.5 1066.1 L583.3 1041.7 L577.3 1035.8 L571.1 1057.7 L565.1 1031.2 L558.9 1031.2 L552.7 1058.9 L546.7 1032.4 L540.5 1039.1 L534.5 1061.9 L528.3 1040.8 L522.7 1056.9 L516.5 1050.1 L510.3 1030.7 L504.3 1038.3 L498.1 1051.0 L492.1 1027.8 L485.9 1042.5 L479.7 1045.4 L473.7 1025.1 L467.5 1059.9 L461.5 1045.0 L455.3 1034.6 L449.7 1055.2 L443.5 1067.0 L437.3 1034.1 L431.3 1038.3 L425.1 1037.0 L419.1 1025.7 L412.9 1053.8 L406.7 1038.3 L400.7 1031.2 L394.5 1052.6 L388.5 1042.0 L382.3 1046.4 L376.7 1048.1 L370.5 1014.7 L364.3 982.6 L358.3 1045.0 L352.1 1031.1 L346.1 1024.8 L339.9 1044.7 L333.7 1021.8 L327.7 1038.3 L321.5 1034.1 L315.5 1011.7 L309.3 1053.8 L303.5 1034.9 L297.3 1025.7 L291.1 1034.9 L285.1 1021.1 L278.9 1020.1 L272.9 1047.6 L266.7 1020.6 L260.5 1028.5 L254.5 1034.1 L248.3 1022.8 L242.3 1028.5 L236.1 1032.4 L230.5 1019.8 L224.3 1034.9 L218.1 1051.8 L212.1 1021.8 L205.9 1029.9 L199.9 1030.4 L193.7 1016.7 L187.5 1020.1 L181.5 1012.2 L175.3 1015.5 L169.3 1039.7 L163.1 1007.9 L157.5 1034.1 L151.3 1045.9Z" fill="#2a2eec" fill-opacity="0.25" stroke="#2a2eec" stroke-opacity="0.25" stroke-width="2.0" stroke-linejoin="miter" />
<path d="M1174.1 952.8 L1180.3 987.3 L1186.1 965.1 L1192.3 713.2 L1198.3 922.0 L1204.5 966.3 L1210.5 981.1 L1216.7 984.8 L1222.9 964.6 L1228.9 961.4 L1235.1 926.9 L1241.1 920.7 L1247.3 869.0 L1253.5 898.5 L1259.1 971.3 L1265.3 1002.1 L1271.3 1009.9 L1277.5 977.4 L1283.5 958.9 L1289.7 955.2 L1295.9 928.1 L1301.9 957.7 L1308.1 931.1 L1314.1 939.2 L1320.3 984.8 L1326.5 972.5 L1332.1 961.4 L1338.3 969.3 L1344.3 940.4 L1344.3 1002.1 L1338.3 1030.4 L1332.1 1024.2 L1326.5 1036.6 L1320.3 1045.2 L1314.1 1002.1 L1308.1 992.2 L1301.9 1021.3 L1295.9 991.0 L1289.7 1018.1 L1283.5 1021.8 L1277.5 1036.6 L1271.3 1074.3 L1265.3 1062.9 L1259.1 1031.6 L1253.5 962.6 L1247.3 931.8 L1241.1 981.1 L1235.1 992.2 L1228.9 1021.8 L1222.9 1026.7 L1216.7 1047.6 L1210.5 1042.7 L1204.5 1027.9 L1198.3 981.1 L1192.3 776.6 L1186.1 1023.0 L1180.3 1048.4 L1174.1 1014.4Z" fill="#fa7c17" fill-opacity="0.25" stroke="#fa7c17" stroke-opacity="0.25" stroke-width="2.0" stroke-linejoin="miter" />
<path d="M1174.1 983.8 L1180.3 1015.6 L1186.1 992.2 L1192.3 745.8 L1198.3 950.3 L1204.5 997.1 L1210.5 1011.9 L1216.7 1016.4 L1222.9 994.2 L1228.9 992.2 L1235.1 958.9 L1241.1 950.3 L1247.3 899.8 L1253.5 930.6 L1259.1 999.6 L1265.3 1033.6 L1271.3 1041.5 L1277.5 1004.5 L1283.5 991.7 L1289.7 986.0 L1295.9 960.2 L1301.9 988.5 L1308.1 961.4 L1314.1 971.3 L1320.3 1014.4 L1326.5 1005.0 L1332.1 993.4 L1338.3 999.6 L1344.3 971.3 L1344.3 1003.8 L1338.3 1003.8 L1332.1 1003.8 L1326.5 1003.8 L1320.3 1003.8 L1314.1 1003.8 L1308.1 1003.8 L1301.9 1003.8 L1295.9 1003.8 L1289.7 1003.8 L1283.5 1003.8 L1277.5 1003.8 L1271.3 1003.8 L1265.3 1003.8 L1259.1 1003.8 L1253.5 1003.8 L1247.3 1003.8 L1241.1 1003.8 L1235.1 1003.8 L1228.9 1003.8 L1222.9 1003.8 L1216.7 1003.8 L1210.5 1003.8 L1204.5 1003.8 L1198.3 1003.8 L1192.3 1003.8 L1186.1 1003.8 L1180.3 1003.8 L1174.1 1003.8Z" fill="#2a2eec" fill-opacity="0.25" stroke="#2a2eec" stroke-opacity="0.25" stroke-width="2.0" stroke-linejoin="miter" />
<polyline points="151.3,1015.5 157.5,1003.2 163.1,976.7 169.3,1008.8 175.3,984.3 181.5,981.8 187.5,989.4 193.7,985.7 199.9,998.7 205.9,997.8 212.1,991.1 218.1,1019.8 224.3,1004.6 230.5,987.7 236.1,999.5 242.3,997.0 248.3,991.9 254.5,1000.9 260.5,995.3 266.7,988.5 272.9,1016.4 278.9,988.0 285.1,990.2 291.1,1001.2 297.3,995.8 303.5,1003.7 309.3,1019.8 315.5,981.0 321.5,1002.9 327.7,1007.9 333.7,992.4 339.9,1013.3 346.1,993.6 352.1,998.7 358.3,1014.7 364.3,951.4 370.5,988.5 376.7,1015.0 382.3,1016.0 388.5,1011.3 394.5,1024.8 400.7,1001.2 406.7,1007.1 412.9,1021.8 419.1,994.5 425.1,1007.1 431.3,1007.6 437.3,1002.5 443.5,1034.1 449.7,1024.8 455.3,1003.2 461.5,1014.7 467.5,1029.5 473.7,993.6 479.7,1014.7 485.9,1012.7 492.1,995.8 498.1,1021.8 504.3,1009.6 510.3,998.3 516.5,1018.9 522.7,1025.7 528.3,1008.8 534.5,1029.0 540.5,1006.3 546.7,1001.2 552.7,1027.3 558.9,1000.4 565.1,1000.4 571.1,1026.2 577.3,1005.4 583.3,1011.3 589.5,1034.9 595.7,999.5 601.6,1005.4 607.8,1015.5 613.8,986.0 620.0,1022.3 626.0,1007.9 632.2,994.5 638.4,1026.5 644.4,1001.2 650.6,1007.1 656.6,1022.3 662.8,1006.6 669.0,1010.5 674.6,1018.9 680.8,969.2 686.8,1000.4 693.0,1028.5 699.0,997.8 705.2,1014.7 711.4,1017.2 717.4,998.7 723.6,1021.4 729.6,1016.4 735.8,1025.7 742.0,1020.1 747.6,1029.0 753.8,1011.3 759.8,1014.7 766.0,1010.5 772.0,992.4 778.2,1020.1 784.4,988.5 790.4,996.1 796.6,1019.8 802.6,981.0 808.8,959.4 815.0,993.3 820.6,994.5 826.8,994.8 832.8,1022.3 839.0,995.3 845.0,1006.6 851.2,1018.1 857.4,993.6 863.4,1006.3 869.6,1007.9 875.6,997.5 881.8,1038.6 888.0,997.8 893.8,992.4 900.0,991.1 906.0,1006.3 912.2,993.1 918.2,1012.7 924.4,989.4 930.6,993.6 936.6,1020.1 942.8,989.4 948.8,1004.9 955.0,983.5 961.2,985.2 966.8,987.7 973.0,1034.4 979.0,988.0 985.2,991.9 991.2,1018.4 997.4,992.4 1003.6,1005.4 1009.6,999.5 1015.8,994.1 1021.8,1014.7 1028.0,945.2 1034.2,987.7 1039.8,984.3 1046.0,990.2 1052.0,997.5 1058.2,1007.1 1064.2,999.5 1070.4,997.8 1076.6,1024.0 1082.6,999.5 1088.8,1000.4 1094.8,1032.4 1101.0,1011.3 1107.3,998.7 1112.9,1020.6 1119.1,1007.9 1125.1,997.0 1131.3,1020.6 1137.3,994.1 1143.5,1006.3 1149.7,1006.6 1155.7,992.3 1161.9,1000.4 1167.9,1000.7" fill="none" stroke="#2a2eec" stroke-width="4.4" stroke-linejoin="round" stroke-linecap="square"/>
<polyline points="1174.1,983.8 1180.3,1015.6 1186.1,992.2 1192.3,745.8 1198.3,950.3 1204.5,997.1 1210.5,1011.9 1216.7,1016.4 1222.9,994.2 1228.9,992.2 1235.1,958.9 1241.1,950.3 1247.3,899.8 1253.5,930.6 1259.1,999.6 1265.3,1033.6 1271.3,1041.5 1277.5,1004.5 1283.5,991.7 1289.7,986.0 1295.9,960.2 1301.9,988.5 1308.1,961.4 1314.1,971.3 1320.3,1014.4 1326.5,1005.0 1332.1,993.4 1338.3,999.6 1344.3,971.3" fill="none" stroke="#fa7c17" stroke-width="4.4" stroke-linejoin="round" stroke-linecap="square"/>
<line x1="92.0" x2="1403.0" y1="1003.8" y2="1003.8" stroke="#000" stroke-width="4.17"/>
<line x1="1173.8" x2="1173.8" y1="696.0" y2="1091.8" stroke="#ff0000" stroke-width="8.3"/>
</g>
<rect x="92.0" y="1159.2" width="1311.0" height="395.39999999999986" fill="#eeeeee"/><g stroke="#ffffff" stroke-width="2.2"><line x1="150.96" x2="150.96" y1="1159.2" y2="1554.6"/><line x1="296.99" x2="296.99" y1="1159.2" y2="1554.6"/><line x1="443.22" x2="443.22" y1="1159.2" y2="1554.6"/><line x1="589.25" x2="589.25" y1="1159.2" y2="1554.6"/><line x1="735.48" x2="735.48" y1="1159.2" y2="1554.6"/><line x1="881.51" x2="881.51" y1="1159.2" y2="1554.6"/><line x1="1027.74" x2="1027.74" y1="1159.2" y2="1554.6"/><line x1="1173.76" x2="1173.76" y1="1159.2" y2="1554.6"/><line x1="1319.99" x2="1319.99" y1="1159.2" y2="1554.6"/><line x1="92.0" x2="1403.0" y1="1222.9" y2="1222.9"/><line x1="92.0" x2="1403.0" y1="1322.6" y2="1322.6"/><line x1="92.0" x2="1403.0" y1="1422.3" y2="1422.3"/><line x1="92.0" x2="1403.0" y1="1522.0" y2="1522.0"/></g>
<g clip-path="url(#c2)">
<path d="M1174.1 1503.0 L1180.3 1506.7 L1186.1 1496.9 L1192.3 1403.2 L1198.3 1379.8 L1204.5 1374.4 L1210.5 1376.1 L1216.7 1376.8 L1222.9 1374.4 L1228.9 1365.0 L1235.1 1349.0 L1241.1 1326.8 L1247.3 1286.2 L1253.5 1259.5 L1259.1 1257.3 L1265.3 1262.7 L1271.3 1273.8 L1277.5 1270.9 L1283.5 1265.2 L1289.7 1252.9 L1295.9 1239.3 L1301.9 1233.2 L1308.1 1215.9 L1314.1 1202.4 L1320.3 1206.5 L1326.5 1201.1 L1332.1 1200.4 L1338.3 1193.2 L1344.3 1177.2 L1344.3 1331.7 L1338.3 1344.8 L1332.1 1345.3 L1326.5 1341.6 L1320.3 1344.1 L1314.1 1335.9 L1308.1 1345.3 L1301.9 1357.6 L1295.9 1361.3 L1289.7 1369.9 L1283.5 1378.1 L1277.5 1379.8 L1271.3 1379.3 L1265.3 1363.8 L1259.1 1354.4 L1253.5 1351.0 L1247.3 1374.9 L1241.1 1411.8 L1235.1 1427.9 L1228.9 1438.2 L1222.9 1443.9 L1216.7 1442.6 L1210.5 1436.5 L1204.5 1429.8 L1198.3 1431.1 L1192.3 1448.8 L1186.1 1535.1 L1180.3 1537.0 L1174.1 1526.4Z" fill="#fa7c17" fill-opacity="0.25" stroke="#fa7c17" stroke-opacity="0.25" stroke-width="2.0" stroke-linejoin="miter" />
<polyline points="1174.1,1514.9 1180.3,1519.8 1186.1,1516.6 1192.3,1425.4 1198.3,1406.9 1204.5,1403.2 1210.5,1405.7 1216.7,1410.6 1222.9,1406.9 1228.9,1403.2 1235.1,1387.2 1241.1,1367.5 1247.3,1334.2 1253.5,1306.6 1259.1,1304.6 1265.3,1314.5 1271.3,1327.6 1277.5,1327.6 1283.5,1323.6 1289.7,1317.0 1295.9,1302.2 1301.9,1297.2 1308.1,1282.5 1314.1,1270.9 1320.3,1273.8 1326.5,1274.3 1332.1,1270.9 1338.3,1269.6 1344.3,1257.8" fill="none" stroke="#fa7c17" stroke-width="4.4" stroke-linejoin="round" stroke-linecap="square"/>
<line x1="92.0" x2="1403.0" y1="1522.0" y2="1522.0" stroke="#000" stroke-width="4.17"/>
<line x1="1173.8" x2="1173.8" y1="1159.2" y2="1554.6" stroke="#ff0000" stroke-width="8.3"/>
</g>
<rect x="122.0" y="265.2" width="66.8" height="23.50000000000001" fill="#2a2eec" fill-opacity="0.25" stroke="#2a2eec" stroke-opacity="0.25" stroke-width="2.0"/>
<line x1="121.1" x2="189.7" y1="275.9" y2="275.9" stroke="#2a2eec" stroke-width="4.17"/>
<circle cx="155.4" cy="326.5" r="5.5" fill="#000"/>
<rect x="122.0" y="364.5" width="66.8" height="23.2" fill="#fa7c17" fill-opacity="0.25" stroke="#fa7c17" stroke-opacity="0.25" stroke-width="2.0"/>
<line x1="121.1" x2="189.7" y1="376.0" y2="376.0" stroke="#fa7c17" stroke-width="4.17"/>
<rect x="122.0" y="414.29999999999995" width="66.8" height="23.100000000000033" fill="#2a2eec" fill-opacity="0.25" stroke="#2a2eec" stroke-opacity="0.25" stroke-width="2.0"/>
<g opacity="0.999">
<text transform="translate(447.15,112.60) scale(1.0759,1)" font-size="47.1" fill="#262626" stroke="#262626" stroke-width="0.45">Pre-intervention</text><text transform="translate(820.02,112.60) scale(1.0426,1)" font-size="47.1" fill="#262626" stroke="#262626" stroke-width="0.45">Bayesian</text>
<text transform="translate(1036.83,112.60) scale(0.8300,1)" font-size="47.1" font-style="italic" fill="#262626" stroke="#262626" stroke-width="0.45">R</text>
<text transform="translate(1070.58,95.10) scale(1.0399,1)" font-size="33.0" fill="#262626" stroke="#262626" stroke-width="0.45">2</text>
<text transform="translate(1089.60,112.60) scale(1.4154,1)" font-size="47.1" fill="#262626" stroke="#262626" stroke-width="0.45">:</text>
<text transform="translate(1121.83,112.60) scale(1.0582,1)" font-size="47.1" fill="#262626" stroke="#262626" stroke-width="0.45">0.64</text>
<text transform="translate(698.94,165.40) scale(1.0827,1)" font-size="47.1" fill="#262626" stroke="#262626" stroke-width="0.45">(std</text><text transform="translate(800.85,165.40) scale(1.2197,1)" font-size="47.1" fill="#262626" stroke="#262626" stroke-width="0.45">=</text><text transform="translate(851.48,165.40) scale(1.0713,1)" font-size="47.1" fill="#262626" stroke="#262626" stroke-width="0.45">0.03)</text>
<text transform="translate(588.52,679.10) scale(1.0090,1)" font-size="47.1" fill="#262626" stroke="#262626" stroke-width="0.45">Causal</text><text transform="translate(751.37,679.10) scale(1.0841,1)" font-size="47.1" fill="#262626" stroke="#262626" stroke-width="0.45">Impact</text>
<text transform="translate(454.36,1143.00) scale(1.0765,1)" font-size="47.1" fill="#262626" stroke="#262626" stroke-width="0.45">Cumulative</text><text transform="translate(722.26,1143.00) scale(1.0095,1)" font-size="47.1" fill="#262626" stroke="#262626" stroke-width="0.45">Causal</text><text transform="translate(885.19,1143.00) scale(1.0847,1)" font-size="47.1" fill="#262626" stroke="#262626" stroke-width="0.45">Impact</text>
<text transform="translate(214.05,287.80) scale(1.0794,1)" font-size="35.3" fill="#262626" stroke="#262626" stroke-width="0.45">Pre-intervention</text><text transform="translate(494.73,287.80) scale(1.0765,1)" font-size="35.3" fill="#262626" stroke="#262626" stroke-width="0.45">period</text>
<text transform="translate(216.02,337.70) scale(1.0571,1)" font-size="35.3" fill="#262626" stroke="#262626" stroke-width="0.45">Observations</text>
<text transform="translate(215.80,387.80) scale(1.0768,1)" font-size="35.3" fill="#262626" stroke="#262626" stroke-width="0.45">Counterfactual</text>
<text transform="translate(215.32,437.10) scale(1.0107,1)" font-size="35.3" fill="#262626" stroke="#262626" stroke-width="0.45">Causal</text><text transform="translate(338.35,437.10) scale(1.0932,1)" font-size="35.3" fill="#262626" stroke="#262626" stroke-width="0.45">impact</text>
<text transform="translate(20.79,327.70) scale(1.0232,1)" font-size="41.2" fill="#262626" stroke="#262626" stroke-width="0.45">7.5</text>
<text transform="translate(21.90,405.80) scale(1.0319,1)" font-size="41.2" fill="#262626" stroke="#262626" stroke-width="0.45">5.0</text>
<text transform="translate(21.28,485.50) scale(1.0269,1)" font-size="41.2" fill="#262626" stroke="#262626" stroke-width="0.45">2.5</text>
<text transform="translate(20.79,565.30) scale(1.0410,1)" font-size="41.2" fill="#262626" stroke="#262626" stroke-width="0.45">0.0</text>
<text transform="translate(33.83,732.80) scale(1.0244,1)" font-size="41.2" fill="#262626" stroke="#262626" stroke-width="0.45">10</text>
<text transform="translate(59.24,876.90) scale(0.9453,1)" font-size="41.2" fill="#262626" stroke="#262626" stroke-width="0.45">5</text>
<text transform="translate(58.36,1019.00) scale(0.9962,1)" font-size="41.2" fill="#262626" stroke="#262626" stroke-width="0.45">0</text>
<text transform="translate(34.02,1237.80) scale(1.0248,1)" font-size="41.2" fill="#262626" stroke="#262626" stroke-width="0.45">30</text>
<text transform="translate(33.25,1337.70) scale(1.0421,1)" font-size="41.2" fill="#262626" stroke="#262626" stroke-width="0.45">20</text>
<text transform="translate(33.83,1437.30) scale(1.0244,1)" font-size="41.2" fill="#262626" stroke="#262626" stroke-width="0.45">10</text>
<text transform="translate(58.36,1536.60) scale(0.9962,1)" font-size="41.2" fill="#262626" stroke="#262626" stroke-width="0.45">0</text>
<text transform="translate(101.62,1594.90) scale(1.0632,1)" font-size="41.2" fill="#262626" stroke="#262626" stroke-width="0.45">2006</text>
<text transform="translate(247.76,1594.90) scale(1.0597,1)" font-size="41.2" fill="#262626" stroke="#262626" stroke-width="0.45">2008</text>
<text transform="translate(393.99,1594.90) scale(1.0584,1)" font-size="41.2" fill="#262626" stroke="#262626" stroke-width="0.45">2010</text>
<text transform="translate(540.64,1594.90) scale(1.0497,1)" font-size="41.2" fill="#262626" stroke="#262626" stroke-width="0.45">2012</text>
<text transform="translate(686.00,1594.90) scale(1.0591,1)" font-size="41.2" fill="#262626" stroke="#262626" stroke-width="0.45">2014</text>
<text transform="translate(832.17,1594.90) scale(1.0632,1)" font-size="41.2" fill="#262626" stroke="#262626" stroke-width="0.45">2016</text>
<text transform="translate(978.50,1594.90) scale(1.0597,1)" font-size="41.2" fill="#262626" stroke="#262626" stroke-width="0.45">2018</text>
<text transform="translate(1124.53,1594.90) scale(1.0584,1)" font-size="41.2" fill="#262626" stroke="#262626" stroke-width="0.45">2020</text>
<text transform="translate(1271.38,1594.90) scale(1.0497,1)" font-size="41.2" fill="#262626" stroke="#262626" stroke-width="0.45">2022</text>
</g>
</svg>
</body></html>
